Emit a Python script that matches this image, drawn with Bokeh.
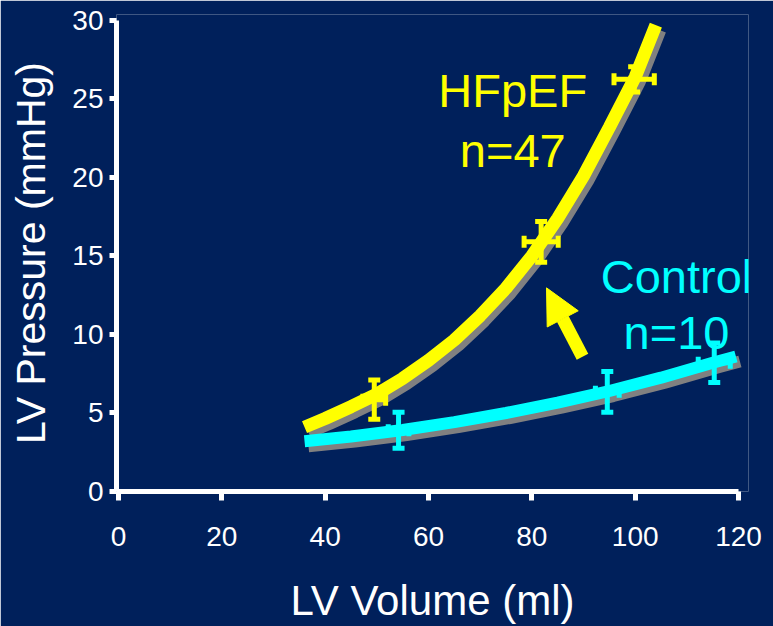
from bokeh.plotting import figure
from bokeh.models import (Arrow, NormalHead, ColumnDataSource, Range1d, FixedTicker)
from bokeh.embed import file_html
from bokeh.resources import INLINE
from bokeh.core.properties import value
import numpy as np

# ---------------- data ----------------
x_ticks = [0, 20, 40, 60, 80, 100, 120]
y_ticks = [0, 5, 10, 15, 20, 25, 30]

# HFpEF fitted curve
hf_curve_x = [36, 40, 45, 50, 55, 60, 65, 70, 75, 80, 85, 90, 95, 100, 104]
hf_curve_y = [4.1, 4.65, 5.4, 6.2, 7.2, 8.35, 9.65, 11.2, 12.95, 15.0, 17.4, 20.1, 23.2, 26.4, 29.7]
# HFpEF measured points with errors
hf_x = [49.5, 81.8, 99.8]
hf_y = [5.85, 15.9, 26.25]
hf_xerr = [2.2, 3.3, 3.9]
hf_yerr = [1.25, 1.3, 0.8]

# Control fitted curve
ct_curve_x = [36, 45, 55, 65, 75, 85, 95, 105, 115, 119.5]
ct_curve_y = [3.2, 3.5, 3.92, 4.42, 5.0, 5.66, 6.4, 7.25, 8.2, 8.6]
# Control measured points
ct_x = [54.2, 94.6, 115.3]
ct_y = [3.9, 6.35, 8.2]
ct_xerr = [2.0, 2.3, 3.1]
ct_yerr = [1.15, 1.3, 1.25]

# arrow (tail -> tip)
arrow_start = (89.8, 8.58)
arrow_end = (82.84, 12.97)

labels_text = ["HFpEF", "n=47", "Control", "n=10"]
labels_x = [76.3, 76.3, 108.0, 108.0]
labels_y = [25.56, 21.74, 13.67, 10.1]
labels_color = ["#ffff00", "#ffff00", "#00ffff", "#00ffff"]

x_title = "LV Volume (ml)"
y_title = "LV Pressure (mmHg)"

# ---------------- style ----------------
BG = "#00205b"
YEL = "#ffff00"
CYA = "#00ffff"
GRAY = "#808080"
FONT = "Liberation Sans"
SHADOW_DX = 0.77   # ~4 px
SHADOW_DY = -0.32  # ~5 px

p = figure(width=773, height=626,
           x_range=Range1d(-0.39, 121.93), y_range=Range1d(0, 30.38),
           output_backend="svg", toolbar_location=None,
           min_border_left=116, min_border_right=25,
           min_border_top=14, min_border_bottom=134,
           background_fill_color=BG, border_fill_color=BG,
           outline_line_color=None)
p.grid.visible = False

for ax in (p.xaxis, p.yaxis):
    ax.axis_line_color = "white"
    ax.axis_line_width = 5
    ax.major_tick_line_color = "white"
    ax.major_tick_line_width = 5
    ax.minor_tick_line_color = None
    ax.major_tick_in = 0
    ax.major_label_text_color = "white"
    ax.major_label_text_font = FONT
    ax.major_label_text_font_size = "28px"
    ax.axis_label_text_color = "white"
    ax.axis_label_text_font = FONT
    ax.axis_label_text_font_size = "41px"
    ax.axis_label_text_font_style = "normal"

p.xaxis.axis_label_text_font_size = "42px"
p.xaxis.ticker = FixedTicker(ticks=x_ticks)
p.yaxis.ticker = FixedTicker(ticks=y_ticks)
p.xaxis.bounds = (-0.39, 120)
p.yaxis.bounds = (0, 30)
p.xaxis.major_tick_out = 9
p.yaxis.major_tick_out = 7
p.xaxis.major_label_standoff = 26
p.yaxis.major_label_standoff = 6
p.xaxis.axis_label = x_title
p.yaxis.axis_label = y_title
p.xaxis.axis_label_standoff = 28
p.yaxis.axis_label_standoff = 15

# shadows
p.line(np.array(hf_curve_x) + SHADOW_DX, np.array(hf_curve_y) + SHADOW_DY,
       line_color=GRAY, line_width=13)
p.line(np.array(ct_curve_x) + SHADOW_DX, np.array(ct_curve_y) + SHADOW_DY,
       line_color=GRAY, line_width=12)
# curves
p.line(hf_curve_x, hf_curve_y, line_color=YEL, line_width=13)
p.line(ct_curve_x, ct_curve_y, line_color=CYA, line_width=12)

def add_err(xs, ys, xe, ye, color):
    xs, ys, xe, ye = map(np.array, (xs, ys, xe, ye))
    p.segment(x0=xs, y0=ys - ye, x1=xs, y1=ys + ye, line_color=color, line_width=5)
    p.segment(x0=xs - xe, y0=ys, x1=xs + xe, y1=ys, line_color=color, line_width=5)
    p.scatter(np.concatenate([xs, xs]), np.concatenate([ys - ye, ys + ye]),
              marker="dash", size=12, line_color=color, line_width=5)
    p.scatter(np.concatenate([xs - xe, xs + xe]), np.concatenate([ys, ys]),
              marker="dash", size=12, angle=np.pi / 2, line_color=color, line_width=5)

add_err(hf_x, hf_y, hf_xerr, hf_yerr, YEL)
add_err(ct_x, ct_y, ct_xerr, ct_yerr, CYA)

p.add_layout(Arrow(x_start=arrow_start[0], y_start=arrow_start[1],
                   x_end=arrow_end[0], y_end=arrow_end[1],
                   line_color=YEL, line_width=13,
                   end=NormalHead(size=35, fill_color=YEL, line_color=YEL, line_width=1)))

lsrc = ColumnDataSource(dict(x=labels_x, y=labels_y, t=labels_text, c=labels_color))
p.text(x="x", y="y", text="t", text_color="c", source=lsrc,
       text_font=value(FONT), text_font_size="47px",
       text_align="center", text_baseline="alphabetic")

open("out.html", "w").write(file_html(p, INLINE))
